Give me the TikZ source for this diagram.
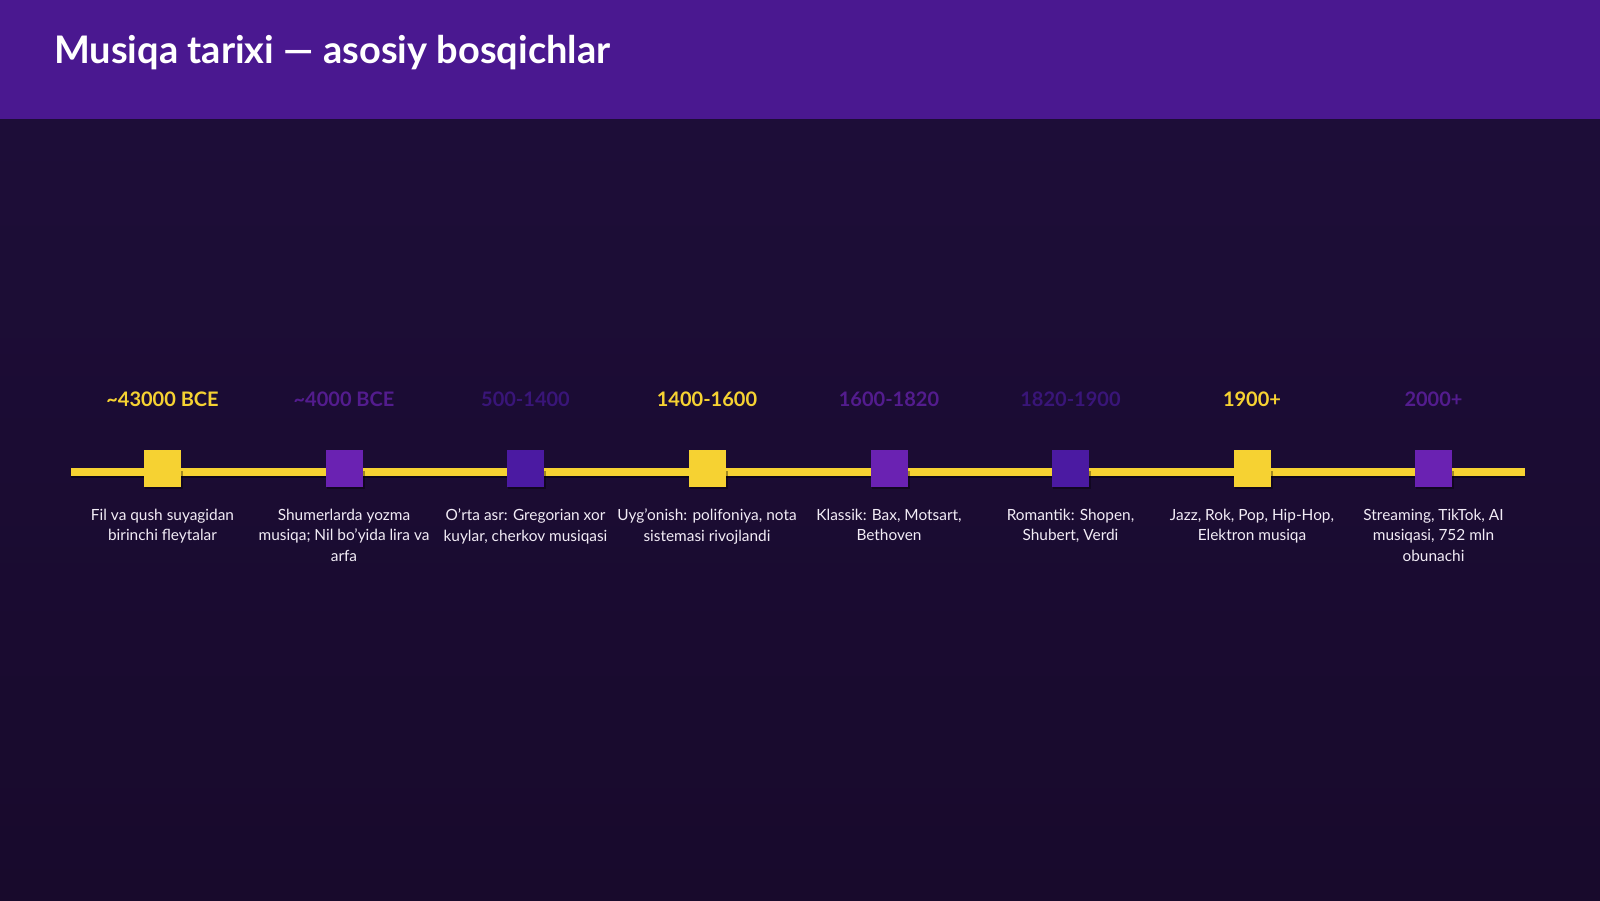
\documentclass[tikz,border=0pt]{standalone}
\usepackage{fontspec}
\setmainfont{Lato}
\definecolor{bgtop}{HTML}{1E0E3A}
\definecolor{bgbot}{HTML}{180A2C}
\definecolor{hdr}{HTML}{4A1890}
\definecolor{gold}{HTML}{F6D232}
\definecolor{violet}{HTML}{6A22B2}
\definecolor{indigo}{HTML}{4B1AA2}
\definecolor{desc}{HTML}{F2ECF6}
\tikzset{
  sq/.style={draw=none, minimum size=37pt, inner sep=0pt},
  datelbl/.style={font=\fontsize{20}{24}\selectfont\bfseries, inner sep=0pt},
  desclbl/.style={font=\fontsize{15.4}{20.4}\selectfont, text=desc, align=center, anchor=north, inner sep=0pt},
  tline/.style={line width=8pt, draw=gold}
}
\begin{document}
\begin{tikzpicture}[x=1pt,y=-1pt]
\useasboundingbox (0,0) rectangle (1600,900);
\shade[top color=bgtop, bottom color=bgbot] (0,0) rectangle (1600,900);
\fill[hdr] (0,0) rectangle (1600,119);
\node[anchor=base west, inner sep=0pt, text=white, font=\fontsize{38}{44}\selectfont\bfseries] (title) at (54,63) {Musiqa tarixi — asosiy bosqichlar};

\coordinate (ls) at (71,472);
\coordinate (le) at (1525,472);
\draw[line width=8pt, draw=black, opacity=0.45] ([yshift=-2pt]ls) -- ([yshift=-2pt]le);
\draw[tline] (ls) -- (le);

\foreach \i/\x/\c/\tc/\d/\txt in {
  1/162.5/gold/gold/{\textasciitilde43000 BCE}/{Fil va qush suyagidan\\birinchi fleytalar},
  2/344/violet/violet!70!bgtop/{\textasciitilde4000 BCE}/{Shumerlarda yozma\\musiqa; Nil bo'yida lira va\\arfa},
  3/525.5/indigo/indigo!60!bgtop/{500-1400}/{O'rta asr: Gregorian xor\\kuylar, cherkov musiqasi},
  4/707/gold/gold/{1400-1600}/{Uyg'onish: polifoniya, nota\\sistemasi rivojlandi},
  5/889/violet/violet!70!bgtop/{1600-1820}/{Klassik: Bax, Motsart,\\Bethoven},
  6/1070.5/indigo/indigo!60!bgtop/{1820-1900}/{Romantik: Shopen,\\Shubert, Verdi},
  7/1252/gold/gold/{1900+}/{Jazz, Rok, Pop, Hip-Hop,\\Elektron musiqa},
  8/1433.5/violet/violet!70!bgtop/{2000+}/{Streaming, TikTok, AI\\musiqasi, 752 mln\\obunachi}} {
  \fill[black, opacity=0.35] (\x-17.5,470.5) rectangle (\x+20.5,488.5);
  \node[sq, fill=\c] (s\i) at (\x,468) {};
  \node[datelbl, text=\tc] (d\i) at (\x,399) {\d};
  \node[desclbl] (t\i) at (\x,509) {\txt};
}
\end{tikzpicture}
\end{document}
